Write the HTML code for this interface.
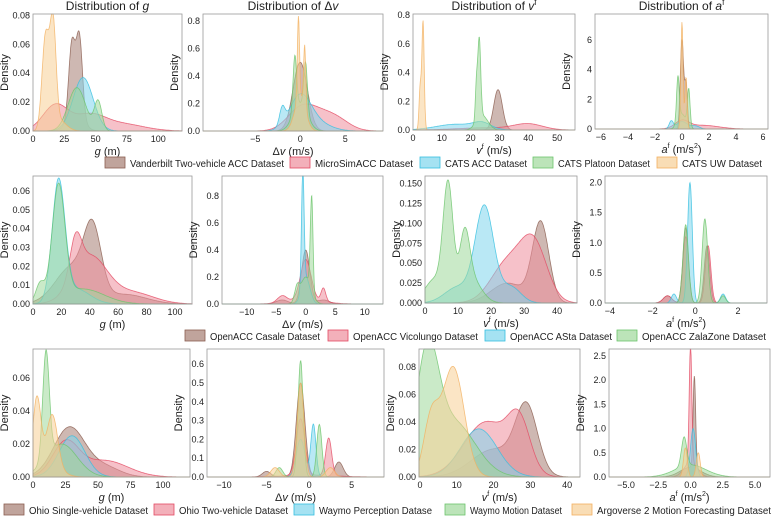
<!DOCTYPE html>
<html><head><meta charset="utf-8">
<style>
html,body{margin:0;padding:0;background:#fff;}
svg{display:block;font-family:"Liberation Sans",sans-serif;}
</style></head>
<body>
<svg id="fig" width="780" height="521" viewBox="0 0 780 521" xmlns="http://www.w3.org/2000/svg"></svg>
<script>
const seriesColors = ["#8b5e50","#e34a63","#35bfe0","#6cc46c","#f3b060"];
const fillColors = ["#a57e72","#ee8e9c","#7fd6ec","#9fd99b","#f7cf95"];
const legend1 = ["Vanderbilt Two-vehicle ACC Dataset","MicroSimACC Dataset","CATS ACC Dataset","CATS Platoon Dataset","CATS UW Dataset"];
const legend2 = ["OpenACC Casale Dataset","OpenACC Vicolungo Dataset","OpenACC ASta Dataset","OpenACC ZalaZone Dataset"];
const legend3 = ["Ohio Single-vehicle Dataset","Ohio Two-vehicle Dataset","Waymo Perception Datase","Waymo Motion Dataset","Argoverse 2 Motion Forecasting Dataset"];
const titles = ["g","dv","vf","af"];
// density components per series: [mean, sd, peak-height]
const r1g = [[[31,2.5,0.05],[37,2.5,0.055],[34,6,0.012]],[[18,10,0.018],[45,12,0.01],[70,18,0.005]],[[40,8,0.037]],[[35,7,0.03],[52,3,0.02]],[[10,2.8,0.064],[16,2.4,0.069],[20,6,0.008]]];
const r1dv = [[[0,0.8,0.5]],[[0,1.5,0.15],[4,1.5,0.08],[2,1.5,0.08]],[[0,1.2,0.25],[-2,0.3,0.12],[2,1.5,0.05]],[[-0.6,0.2,0.4],[0.6,0.2,0.35],[0,0.8,0.2]],[[-0.2,0.12,0.6],[0.5,0.12,0.45],[0,0.6,0.25]]];
const r1v = [[[29.5,1.5,0.28]],[[40,5,0.04],[25,10,0.015]],[[15,7,0.04],[24,3,0.04]],[[23,0.5,0.55],[22,0.4,0.25],[24,2,0.1]],[[3.5,0.4,0.75],[2.5,0.4,0.3]]];
const r1a = [[[0,0.12,6],[0.3,0.1,3]],[[0,0.5,0.5],[1.5,1.2,0.25]],[[-0.8,0.15,0.5],[1,0.3,0.2],[0,0.4,0.5]],[[-0.3,0.1,3],[0.5,0.1,2.5],[0,0.3,1]],[[0,0.08,7.2],[0.3,0.08,3.5]]];
const r2g = [[[42,6,0.033],[28,12,0.02],[65,15,0.005]],[[30,4,0.02],[40,12,0.025],[70,15,0.006]],[[18,4.5,0.063],[30,10,0.008]],[[18,4.5,0.06],[5,3,0.01],[35,15,0.008]]];
const r2dv = [[[0,0.7,0.4],[-4,1,0.03],[3,1,0.03]],[[0,0.9,0.3],[-4,0.8,0.05],[3,0.4,0.1],[0,3,0.03]],[[-0.5,0.22,0.85],[0,0.7,0.2]],[[1,0.22,0.7],[0,0.9,0.2],[-1.5,0.4,0.1]]];
const r2v = [[[35,2.5,0.1],[25,5,0.025]],[[33,4,0.07],[25,5,0.05]],[[18,2.8,0.12],[10,4,0.02],[26,3,0.02]],[[7,1.5,0.14],[12,1.5,0.07],[14,3,0.03],[3,3,0.03]]];
const r2a = [[[-0.45,0.13,1.25],[0.55,0.13,0.95],[-1.3,0.2,0.12]],[[-0.45,0.13,1.1],[0.6,0.13,0.95],[-1.3,0.2,0.12]],[[-0.25,0.11,2.0],[1.3,0.12,0.15],[-1.0,0.12,0.15]],[[-0.45,0.13,1.3],[0.45,0.13,1.4],[1.3,0.12,0.12]]];
const r3g = [[[28,12,0.03],[55,12,0.006]],[[25,10,0.02],[55,18,0.01]],[[30,10,0.025]],[[10,2.5,0.065],[22,12,0.02]],[[3,3,0.04],[15,4,0.03],[8,10,0.01]]];
const r3dv = [[[-1,0.5,0.5],[3.5,0.5,0.08],[-5,0.5,0.03]],[[-1,0.5,0.3],[2.3,0.35,0.2],[0,3,0.01]],[[0.5,0.3,0.28],[-1,0.5,0.2]],[[-1,0.3,0.62],[1.2,0.3,0.28],[-3.5,0.4,0.05]],[[-1,0.4,0.5],[-4,0.5,0.05],[2.5,0.5,0.05]]];
const r3v = [[[29,3,0.048],[20,6,0.02]],[[27,3,0.035],[18,6,0.04]],[[16,5,0.035]],[[2,3,0.08],[9,6,0.04]],[[9,3,0.08],[3,2,0.04]]];
const r3a = [[[0.3,0.1,1.9],[0,0.8,0.2]],[[0,0.1,2.45],[0,0.5,0.3]],[[0.2,0.2,1.0]],[[0,1.2,0.25],[-0.5,0.2,0.6]],[[-0.4,0.15,0.6],[0.6,0.15,0.5]]];
// tick values
const xt1 = [[0,25,50,75,100],[-5,0,5],[0,10,20,30,40,50],[-6,-4,-2,0,2,4,6]];
const yt1 = [[0,0.02,0.04,0.06,0.08],[0,0.2,0.4,0.6,0.8],[0,0.2,0.4,0.6,0.8],[0,2,4,6]];
const xt2 = [[0,20,40,60,80,100],[-10,-5,0,5,10],[0,10,20,30,40],[-4,-2,0,2]];
const yt2 = [[0,0.01,0.02,0.03,0.04,0.05,0.06],[0,0.2,0.4,0.6,0.8],[0,0.025,0.05,0.075,0.1,0.125,0.15],[0,0.5,1,1.5,2]];
const xt3 = [[0,25,50,75,100],[-10,-5,0,5],[0,10,20,30,40],[-5,-2.5,0,2.5,5]];
const yt3 = [[0,0.02,0.04,0.06],[0,0.1,0.2,0.3,0.4,0.5,0.6],[0,0.02,0.04,0.06,0.08],[0,0.5,1,1.5,2,2.5]];
const ydec = [[2,1,1,0],[2,1,3,1],[2,1,2,1]];
const xdec = [[0,0,0,0],[0,0,0,0],[0,0,0,1]];

const NS="http://www.w3.org/2000/svg";
const svg=document.getElementById('fig');
function mk(tag,attrs,parent){const e=document.createElementNS(NS,tag);for(const k in attrs)e.setAttribute(k,attrs[k]);(parent||svg).appendChild(e);return e;}
function fmt(v,d){let s=v.toFixed(d);return s.replace('-','−');}
function xlab(g,i,x,y){
  const t=mk('text',{x:x,y:y,'text-anchor':'middle','font-size':11,fill:'#222'},g);
  
  
  if(i===0){t.innerHTML='<tspan font-style="italic">g</tspan> (m)';}
  else if(i===1){t.innerHTML='Δ<tspan font-style="italic">v</tspan> (m/s)';}
  else if(i===2){t.innerHTML='<tspan font-style="italic">v</tspan><tspan font-size="7" dy="-5">f</tspan><tspan dy="5"> (m/s)</tspan>';}
  else {t.innerHTML='<tspan font-style="italic">a</tspan><tspan font-size="7" dy="-5">f</tspan><tspan dy="5"> (m/s</tspan><tspan font-size="7" dy="-5">2</tspan><tspan dy="5">)</tspan>';}
}
function panel(name,box,xd,yd,series,xt,yt,xdc,ydc,xi,title){
  const [L,T,R,B]=box;
  const g=mk('g',{});
  
  
  const sx=v=>L+(v-xd[0])/(xd[1]-xd[0])*(R-L);
  const sy=v=>B-(v-yd[0])/(yd[1]-yd[0])*(B-T);
  series.forEach((comps,si)=>{
    let pts=[];const N=400;
    for(let k=0;k<=N;k++){const x=xd[0]+(xd[1]-xd[0])*k/N;let y=0;comps.forEach(c=>{y+=c[2]*Math.exp(-0.5*Math.pow((x-c[0])/c[1],2));});pts.push([sx(x),Math.max(T,sy(y))]);}
    let d='M'+pts[0][0].toFixed(1)+','+B;pts.forEach(p=>d+='L'+p[0].toFixed(1)+','+p[1].toFixed(1));d+='L'+pts[N][0].toFixed(1)+','+B+'Z';
    const p=mk('path',{d:d,fill:fillColors[si],'fill-opacity':0.55,stroke:seriesColors[si],'stroke-width':0.8,'stroke-opacity':0.8},g);
    
    
  });
  const fr=mk('rect',{x:L,y:T,width:R-L,height:B-T,fill:'none',stroke:'#999','stroke-width':0.8},g);
  
  
  xt.forEach(v=>{const t=mk('text',{x:sx(v),y:B+11,'text-anchor':'middle','font-size':9,fill:'#222'},g);t.textContent=fmt(v,xdc);
    
    });
  yt.forEach(v=>{const t=mk('text',{x:L-3,y:sy(v)+3,'text-anchor':'end','font-size':9,fill:'#222'},g);t.textContent=fmt(v,ydc);
    
    });
  xlab(g,xi,(L+R)/2,B+24);
  const yl=mk('text',{x:0,y:0,'text-anchor':'middle','font-size':11,fill:'#222',transform:`translate(${L-25},${(T+B)/2}) rotate(-90)`},g);
  yl.textContent='Density';
  
  
  if(title){const tt=mk('text',{x:(L+R)/2,y:T-4,'text-anchor':'middle','font-size':12,fill:'#222'},g);
    
    
    if(xi===0)tt.innerHTML='Distribution of <tspan font-style="italic">g</tspan>';
    else if(xi===1)tt.innerHTML='Distribution of Δ<tspan font-style="italic">v</tspan>';
    else if(xi===2)tt.innerHTML='Distribution of <tspan font-style="italic">v</tspan><tspan font-size="8" dy="-5">f</tspan>';
    else tt.innerHTML='Distribution of <tspan font-style="italic">a</tspan><tspan font-size="8" dy="-5">f</tspan>';}
}
const rows=[
 {s:[r1g,r1dv,r1v,r1a],xt:xt1,yt:yt1,boxes:[[33,14,182,131],[203,14,383,131],[413,14,575,130],[595,14,768,129]],
  xd:[[0,119],[-10.8,9.2],[0,56.2],[-6.44,6.37]],yd:[[0,0.081],[0,0.851],[0,0.807],[0,7.75]]},
 {s:[r2g,r2dv,r2v,r2a],xt:xt2,yt:yt2,boxes:[[33,176,192,304],[222,176,383,304],[425,176,577,303],[605,176,767,303]],
  xd:[[0,112],[-14.2,13.1],[0,46],[-4.23,3.36]],yd:[[0,0.068],[0,0.95],[0,0.1595],[0,2.11]]},
 {s:[r3g,r3dv,r3v,r3a],xt:xt3,yt:yt3,boxes:[[33,349,190,477],[207,349,384,477],[419,349,580,477],[609,349,770,477]],
  xd:[[0,120.8],[-12,8.8],[-0.27,43.5],[-6.32,6.16]],yd:[[0,0.0776],[0,0.681],[0,0.0931],[0,2.64]]}
];
rows.forEach((r,ri)=>{for(let i=0;i<4;i++){panel('panel-r'+(ri+1)+'-'+titles[i],r.boxes[i],r.xd[i],r.yd[i],r.s[i],r.xt[i],r.yt[i],xdec[ri][i],ydec[ri][i],i,ri===0);}});
function legend(name,labels,swx,tw,y){
  const g=mk('g',{});
  
  
  labels.forEach((l,i)=>{
    const r=mk('rect',{x:swx[i],y:y-6,width:20,height:11,fill:fillColors[i],'fill-opacity':0.7,stroke:seriesColors[i],'stroke-width':0.8},g);
    
    
    const t=mk('text',{x:swx[i]+25,y:y+4,'font-size':10,fill:'#222',textLength:tw[i],lengthAdjust:'spacingAndGlyphs'},g);t.textContent=l;
    
    
  });
}
legend('legend-row-1',legend1,[105,290,420,533,657],[154,98,82,92,80],163);
legend('legend-row-2',legend2,[185,328,485,617],[110,125,102,124],336);
legend('legend-row-3',legend3,[4,154,294,445,572],[119,109,113,92,174],510);
</script>
</body></html>
